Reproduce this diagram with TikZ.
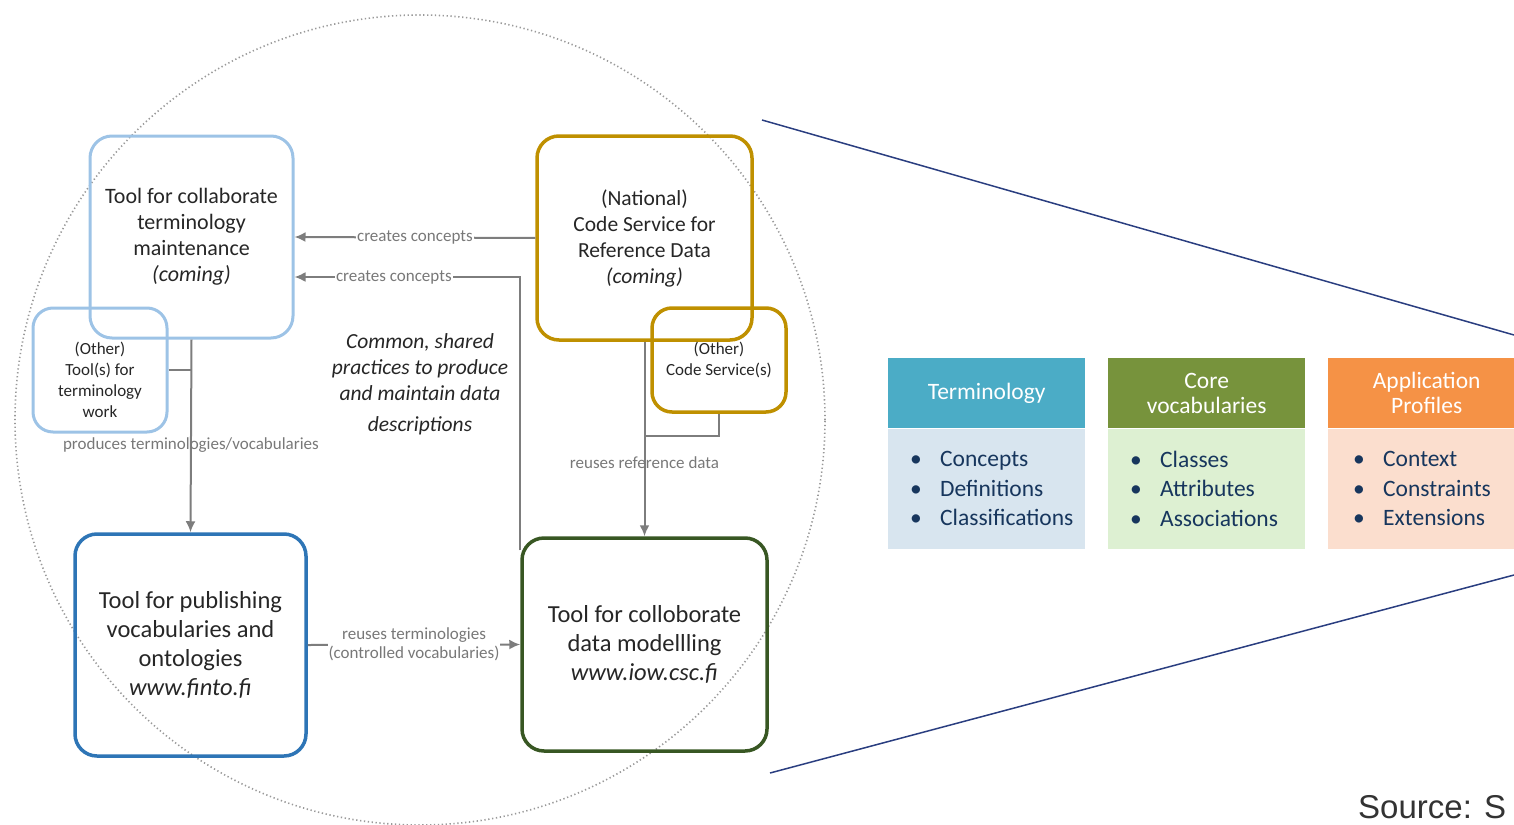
\documentclass[tikz,border=0pt]{standalone}
\usepackage{fontspec}
\setmainfont{Carlito}
\newfontfamily\srcfont{Liberation Sans}
\usetikzlibrary{arrows.meta}

\definecolor{lightblue}{RGB}{157,195,230}
\definecolor{gold}{RGB}{191,144,0}
\definecolor{pubblue}{RGB}{46,117,182}
\definecolor{darkgreen}{RGB}{56,87,35}
\definecolor{conngray}{RGB}{125,125,125}
\definecolor{labelgray}{RGB}{120,120,120}
\definecolor{navyline}{RGB}{42,62,128}
\definecolor{termhead}{RGB}{75,172,198}
\definecolor{termbody}{RGB}{216,229,239}
\definecolor{corehead}{RGB}{119,147,60}
\definecolor{corebody}{RGB}{221,240,210}
\definecolor{apphead}{RGB}{245,146,70}
\definecolor{appbody}{RGB}{251,222,206}
\definecolor{itemtext}{RGB}{23,54,93}

\newcommand{\itm}[1]{\makebox[30pt][l]{\textbullet}#1}

\begin{document}
\begin{tikzpicture}[x=1pt,y=-1pt,
  tool/.style={draw, rounded corners=22pt, line width=3pt, align=center, text=black!85},
  conn/.style={draw=conngray, line width=2pt},
  arr/.style={conn, -{Latex[length=11pt,width=10pt]}},
  lbl/.style={text=labelgray, font=\fontsize{17}{19}\selectfont, inner sep=1pt, align=center},
  hdr/.style={minimum width=197pt, minimum height=70pt, inner sep=0pt, align=center, text=white, font=\fontsize{23.5}{25}\selectfont},
  body/.style={minimum height=120pt, text width=153pt, inner xsep=22pt, inner ysep=0pt, align=left, text=itemtext, font=\fontsize{23.5}{29.5}\selectfont}]
\useasboundingbox (0,0) rectangle (1514,824);
\clip (0,0) rectangle (1514,824);

\draw[gray!80, line width=1.6pt, dash pattern=on 1.3pt off 2.6pt] (420,420) circle[radius=405pt];

\node[tool, draw=lightblue, minimum width=203pt, minimum height=202pt, font=\fontsize{22}{26}\selectfont] (colterm) at (191.5,237) {Tool for collaborate\\terminology\\maintenance\\\textit{(coming)}};
\node[tool, draw=lightblue, rounded corners=20pt, minimum width=134pt, minimum height=124pt, font=\fontsize{17}{21}\selectfont] (othertool) at (100,370) {\rule{0pt}{33pt}(Other)\\Tool(s) for\\terminology\\work};
\node[tool, draw=gold, line width=3.5pt, minimum width=215pt, minimum height=204pt, font=\fontsize{21.5}{26}\selectfont] (codesrv) at (644.5,238) {(National)\\Code Service for\\Reference Data\\\textit{(coming)}};
\node[tool, draw=gold, line width=3.5pt, rounded corners=20pt, minimum width=134pt, minimum height=104pt, font=\fontsize{17}{21}\selectfont] (othercode) at (719,360) {(Other)\\Code Service(s)};
\node[tool, draw=pubblue, line width=3.5pt, minimum width=231pt, minimum height=222pt, font=\fontsize{24.5}{29}\selectfont] (publish) at (190.5,645) {Tool for publishing\\vocabularies and\\ontologies\\\textit{www.finto.fi}};
\node[tool, draw=darkgreen, line width=3.5pt, minimum width=245pt, minimum height=213pt, font=\fontsize{24.5}{29}\selectfont] (datamod) at (644.5,644.5) {Tool for colloborate\\data modellling\\\textit{www.iow.csc.fi}};

\node[align=center, text=black!85, font=\itshape\fontsize{21.5}{26}\selectfont] (common) at (420,384) {Common, shared\\practices to produce\\and maintain data\\[5pt]descriptions};

\draw[arr] (codesrv.west) -- node[lbl, fill=white] {creates concepts} (colterm.east);
\draw[arr] ([yshift=-14pt]datamod.north west) |- node[lbl, fill=white, pos=0.78] {creates concepts} ([yshift=-40pt]colterm.east);
\draw[arr] (colterm.south) -- node[lbl, pos=0.55] {produces terminologies/vocabularies} (publish.north);
\draw[conn] (othertool.east) -- (othertool.east -| colterm.south);
\draw[arr] (codesrv.south) -- node[lbl, pos=0.62] {reuses reference data} (datamod.north);
\draw[conn] (othercode.south) -- ++(0,22) coordinate (codejoin) -- (codejoin -| codesrv.south);
\draw[arr] (publish.east) -- node[lbl, fill=white] {reuses terminologies\\(controlled vocabularies)} (datamod.west);

\draw[navyline, line width=1.5pt] (762,120) -- (1514,335);
\draw[navyline, line width=1.5pt] (770,773) -- (1514,575);

\node[hdr, fill=termhead, anchor=north west] (termH) at (888,358) {Terminology};
\node[body, fill=termbody, anchor=north] (termB) at (termH.south) {\itm{Concepts}\\\itm{Definitions}\\\itm{Classifications}};
\node[hdr, fill=corehead, anchor=north west] (coreH) at (1108,358) {Core\\vocabularies};
\node[body, fill=corebody, anchor=north] (coreB) at (coreH.south) {\itm{Classes}\\\itm{Attributes}\\\itm{Associations}};
\node[hdr, fill=apphead, anchor=north west] (appH) at (1328,358) {Application\\Profiles};
\node[body, fill=appbody, anchor=north, text width=147pt, inner xsep=25pt] (appB) at (appH.south) {\itm{Context}\\\itm{Constraints}\\\itm{Extensions}};

\node[anchor=base west, inner sep=0pt, text=black!80, font=\srcfont\fontsize{33}{36}\selectfont] (src) at (1358,818) {Source: S};
\end{tikzpicture}
\end{document}
